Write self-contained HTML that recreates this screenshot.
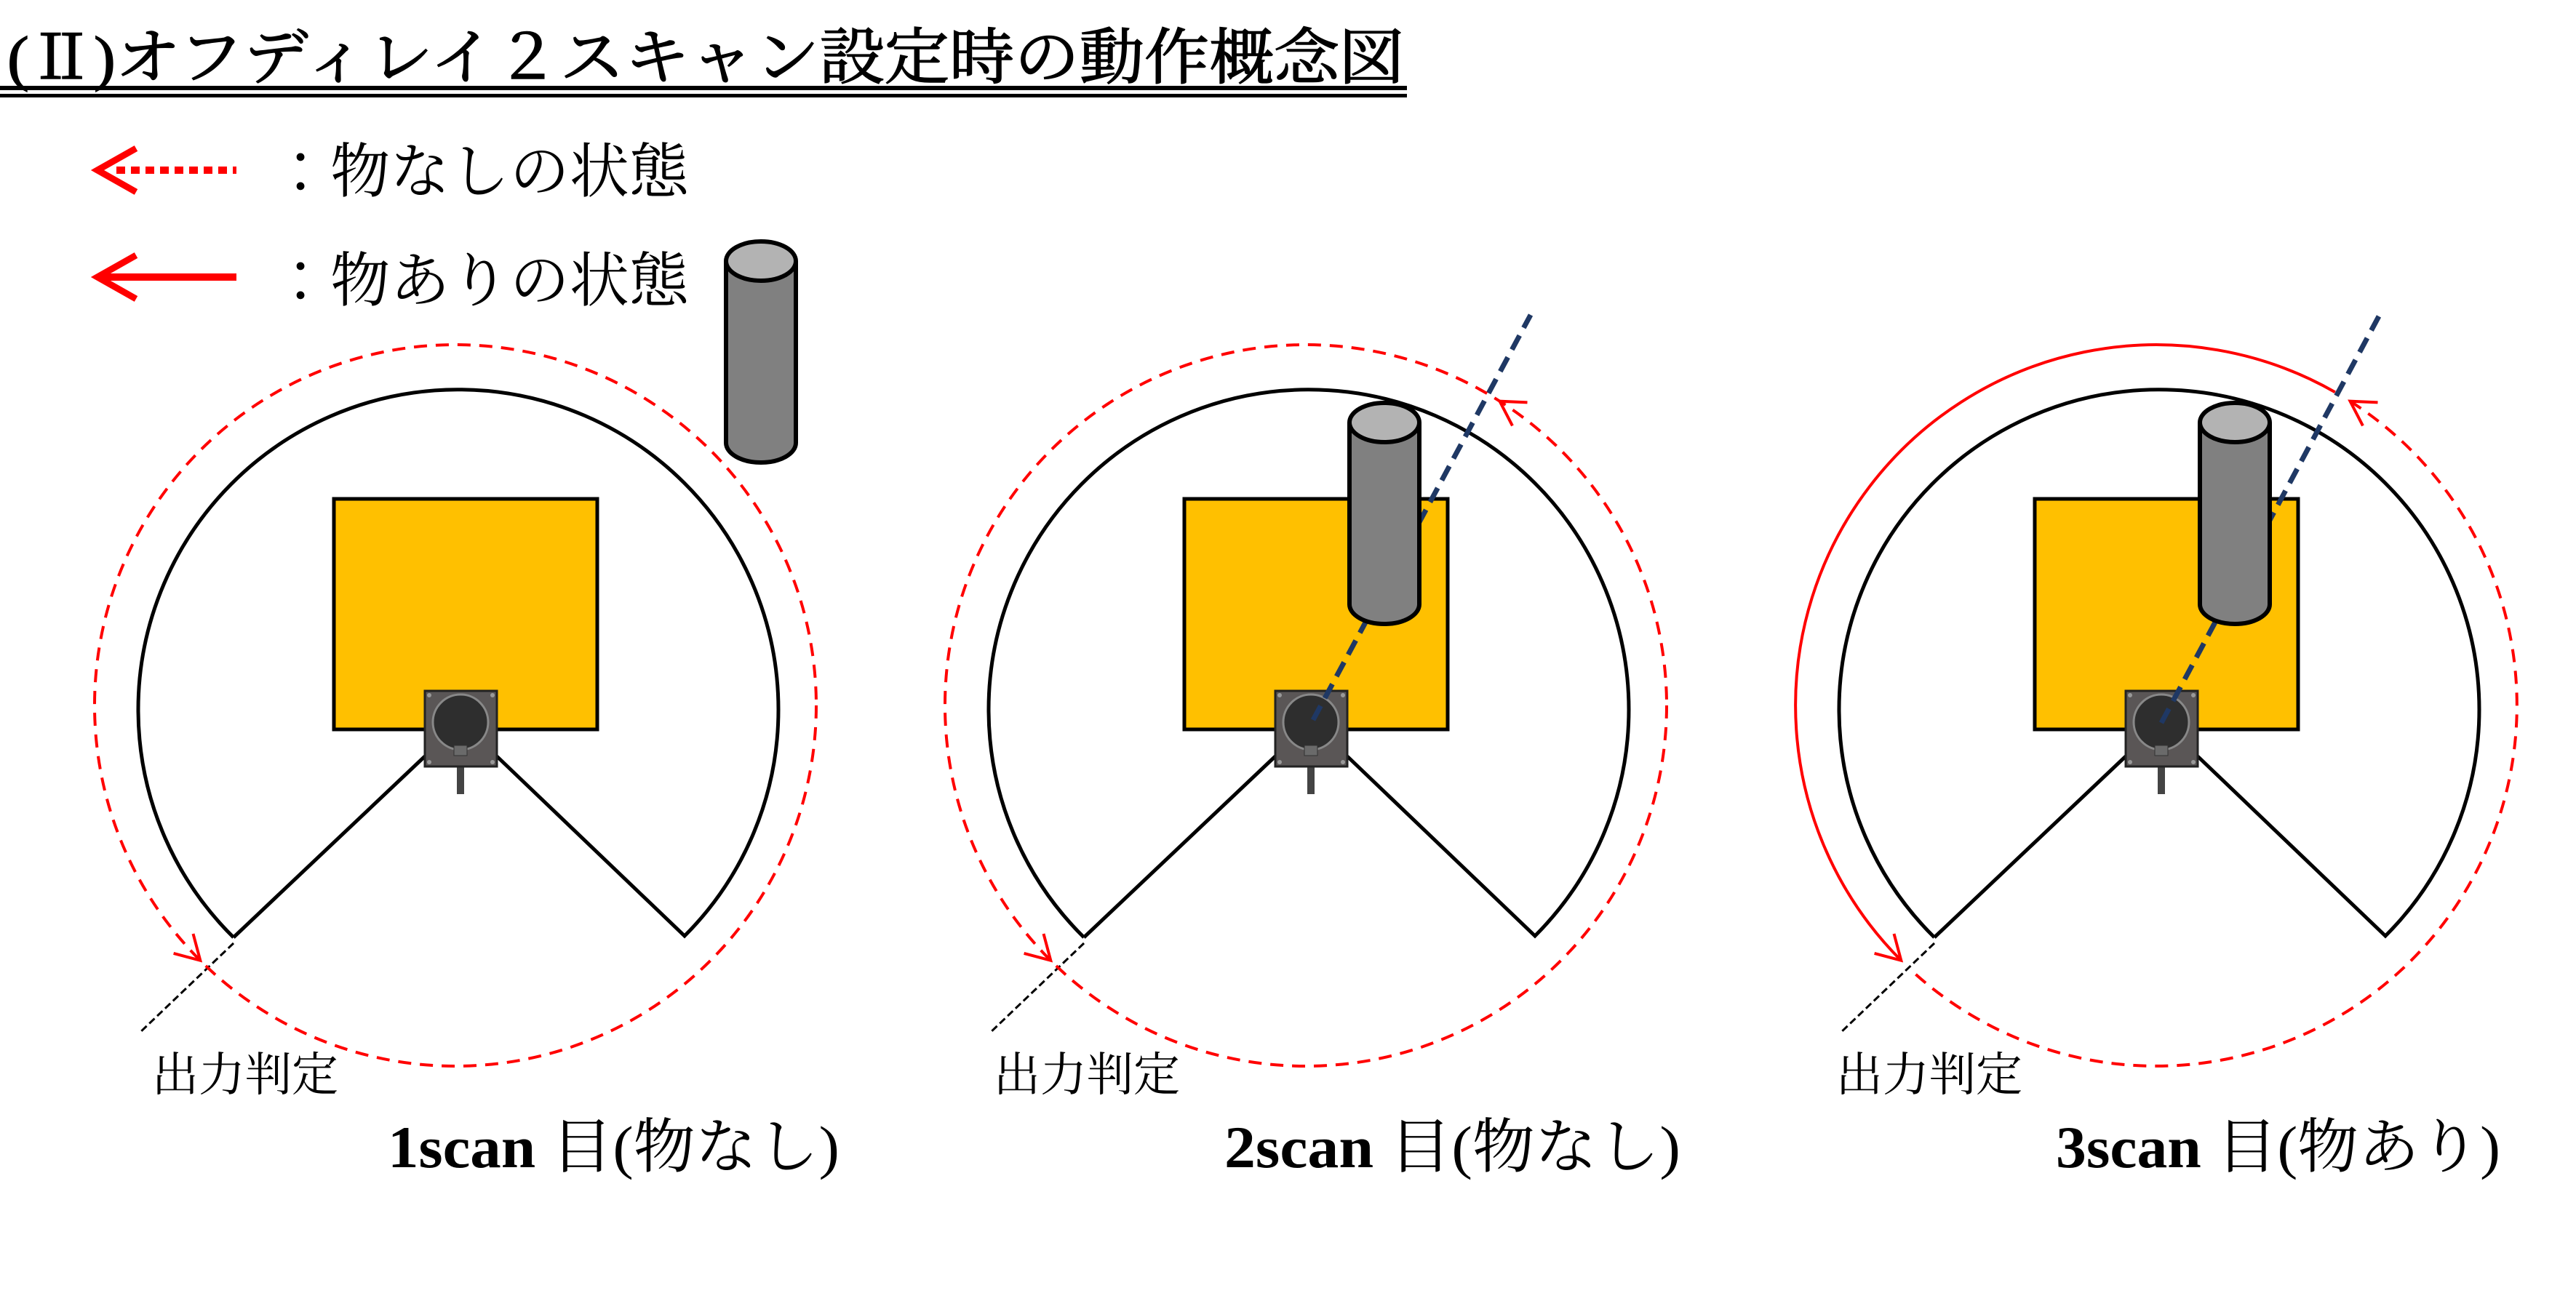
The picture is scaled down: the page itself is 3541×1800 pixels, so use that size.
<!DOCTYPE html>
<html><head><meta charset="utf-8"><style>
html,body{margin:0;padding:0;background:#fff;}
svg{display:block;}
.t{font-family:"Liberation Serif","Noto Serif CJK JP",serif;}
</style></head><body>
<svg width="3541" height="1800" viewBox="0 0 3541 1800" xmlns="http://www.w3.org/2000/svg">
<defs>
<g id="cyl">
  <ellipse cx="734" cy="831" rx="48" ry="27" fill="#808080" stroke="#000" stroke-width="6"/>
  <rect x="689" y="581" width="90" height="250" fill="#808080"/>
  <line x1="686" y1="581" x2="686" y2="831" stroke="#000" stroke-width="6"/>
  <line x1="782" y1="581" x2="782" y2="831" stroke="#000" stroke-width="6"/>
  <ellipse cx="734" cy="581" rx="48" ry="27" fill="#b3b3b3" stroke="#000" stroke-width="6"/>
</g>
<g id="base">
  <path d="M321,1289 A440,440 0 1 1 941,1287 L683,1040 M584,1040 L321,1289" fill="none" stroke="#000" stroke-width="5"/>
  <rect x="459" y="686" width="362" height="317" fill="#ffc000" stroke="#000" stroke-width="5"/>
  <rect x="628" y="1050" width="10" height="42" fill="#444"/>
  <rect x="618" y="1040" width="30" height="14" fill="#666" stroke="#333" stroke-width="2"/>
  <rect x="584" y="950" width="99" height="104" fill="#5a5656" stroke="#222" stroke-width="3"/>
  <circle cx="633" cy="993" r="38" fill="#2e2e2e" stroke="#888" stroke-width="3"/>
  <rect x="624" y="1025" width="18" height="14" fill="#6a6a6a" stroke="#333" stroke-width="1"/>
  <circle cx="590" cy="956" r="3" fill="#999"/><circle cx="677" cy="956" r="3" fill="#999"/>
  <circle cx="590" cy="1048" r="3" fill="#999"/><circle cx="677" cy="1048" r="3" fill="#999"/>
  <line x1="321" y1="1297" x2="191" y2="1421" stroke="#000" stroke-width="3" stroke-dasharray="10 5"/>
</g>
</defs>

<!-- Title -->
<text class="t" x="10" y="108" font-size="84" textLength="1920" lengthAdjust="spacingAndGlyphs" stroke="#000" stroke-width="1.5">(Ⅱ)オフディレイ２スキャン設定時の動作概念図</text>
<rect x="0" y="118" width="1934" height="6" fill="#000"/>
<rect x="0" y="129" width="1934" height="5" fill="#000"/>

<!-- Legend -->
<line x1="160" y1="234" x2="325" y2="234" stroke="#f00" stroke-width="10" stroke-dasharray="12 8"/>
<polyline points="187,204 134,234 187,264" fill="none" stroke="#f00" stroke-width="9"/>
<text class="t" x="372" y="264" font-size="82" textLength="575" lengthAdjust="spacingAndGlyphs">：物なしの状態</text>
<line x1="140" y1="381" x2="325" y2="381" stroke="#f00" stroke-width="10"/>
<polyline points="187,351 134,381 187,411" fill="none" stroke="#f00" stroke-width="9"/>
<text class="t" x="372" y="414" font-size="82" textLength="575" lengthAdjust="spacingAndGlyphs">：物ありの状態</text>
<g transform="translate(312,-222)"><use href="#cyl"/></g>

<!-- Panel 1 -->
<use href="#base"/>
<circle cx="626" cy="970" r="496" fill="none" stroke="#f00" stroke-width="4" stroke-dasharray="18 12"/>
<polyline points="238.6,1310.9 275.3,1320.7 265.5,1284" fill="none" stroke="#f00" stroke-width="4"/>
<text class="t" x="209" y="1500" font-size="64">出力判定</text>
<text class="t" x="533" y="1605" font-size="82" textLength="621" lengthAdjust="spacingAndGlyphs"><tspan font-weight="bold">1scan</tspan> 目(物なし)</text>

<!-- Panel 2 -->
<g transform="translate(1169,0)">
  <use href="#base"/>
  <line x1="636" y1="990" x2="935" y2="433" stroke="#1f3864" stroke-width="7" stroke-dasharray="22 12"/>
  <use href="#cyl"/>
  <circle cx="626" cy="970" r="496" fill="none" stroke="#f00" stroke-width="4" stroke-dasharray="18 12"/>
  <polyline points="238.6,1310.9 275.3,1320.7 265.5,1284" fill="none" stroke="#f00" stroke-width="4"/>
  <polyline points="930.5,553.4 892.5,551.7 910,585.4" fill="none" stroke="#f00" stroke-width="4"/>
</g>
<text class="t" x="1366" y="1500" font-size="64">出力判定</text>
<text class="t" x="1683" y="1605" font-size="82" textLength="627" lengthAdjust="spacingAndGlyphs"><tspan font-weight="bold">2scan</tspan> 目(物なし)</text>

<!-- Panel 3 -->
<g transform="translate(2338,0)">
  <use href="#base"/>
  <line x1="633" y1="994" x2="933" y2="433" stroke="#1f3864" stroke-width="7" stroke-dasharray="22 12"/>
  <use href="#cyl"/>
  <path d="M871.8,539.2 A496,496 0 0 0 275.3,1320.7" fill="none" stroke="#f00" stroke-width="4"/>
  <path d="M892.5,551.7 A496,496 0 1 1 287.7,1332.8" fill="none" stroke="#f00" stroke-width="4" stroke-dasharray="18 12"/>
  <polyline points="238.6,1310.9 275.3,1320.7 265.5,1284" fill="none" stroke="#f00" stroke-width="4"/>
  <polyline points="930.5,553.4 892.5,551.7 910,585.4" fill="none" stroke="#f00" stroke-width="4"/>
</g>
<text class="t" x="2524" y="1500" font-size="64">出力判定</text>
<text class="t" x="2826" y="1605" font-size="82" textLength="611" lengthAdjust="spacingAndGlyphs"><tspan font-weight="bold">3scan</tspan> 目(物あり)</text>
</svg>
</body></html>
